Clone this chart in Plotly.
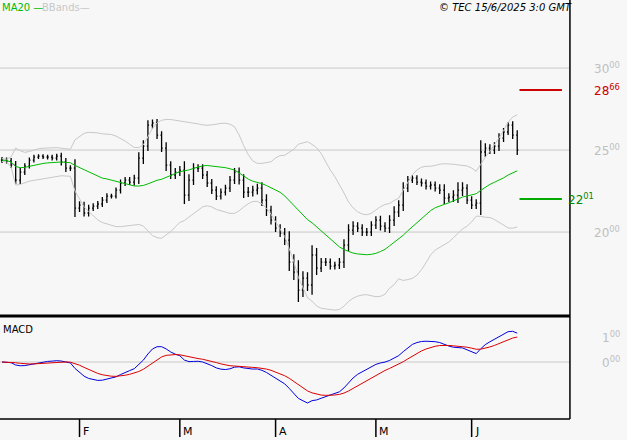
import plotly.graph_objects as go
import pandas as pd
import numpy as np

closes = [2439,2433,2409,2317,2366,2402,2439,2457,2463,2457,2457,2451,2463,2427,2390,2390,
          2146,2164,2116,2146,2158,2171,2195,2219,2219,2256,2299,2317,2305,2329,2451,2524,
          2652,2665,2591,2512,2408,2348,2366,2378,2225,2317,2390,2390,2348,2299,2256,2219,
          2244,2268,2317,2366,2317,2244,2244,2256,2268,2195,2134,2073,2024,1994,1951,1817,
          1756,1646,1719,1677,1860,1780,1817,1817,1792,1798,1817,1920,2012,2036,2024,2000,
          2000,2042,2073,2036,2024,2073,2122,2164,2268,2317,2329,2305,2299,2280,2287,2268,
          2256,2207,2213,2225,2256,2268,2195,2164,2176,2488,2512,2500,2524,2573,2610,2652,
          2591,2500]
ranges = [30,25,30,40,40,30,25,25,20,20,25,25,25,35,40,30,
          90,40,35,35,30,30,30,30,25,25,35,30,30,35,60,60,
          50,35,40,40,60,40,40,40,90,60,50,40,40,40,40,40,
          35,35,40,40,45,60,50,45,45,60,60,45,40,40,50,90,
          80,120,70,60,100,70,40,40,35,35,40,60,60,50,40,40,
          40,40,40,45,40,50,60,50,60,40,30,30,35,35,35,35,
          40,60,40,50,80,60,40,40,40,120,50,40,40,50,40,30,
          40,50]
months = ["F","M","A","M","J"]
month_idx = [17,39,60,82,103]
res_val, sup_val = 2866, 2201
price_ticks = [3000,2500,2000]
macd_ticks = [100,0]

n = len(closes)
idx = list(range(n))
c = pd.Series(closes, dtype=float)
opens = [closes[0]] + closes[:-1]
highs = [max(o, cl) + r*0.6 for o, cl, r in zip(opens, closes, ranges)]
lows = [min(o, cl) - r*0.6 for o, cl, r in zip(opens, closes, ranges)]
ma = c.rolling(20, min_periods=1).mean()
sd = c.rolling(20, min_periods=2).std().bfill()
up, dn = ma + 2*sd, ma - 2*sd
macd = c.ewm(span=12, adjust=False).mean() - c.ewm(span=26, adjust=False).mean()
sig = macd.ewm(span=9, adjust=False).mean()

fig = go.Figure()
fig.add_trace(go.Scatter(x=idx, y=up, mode="lines", line=dict(color="#c8c8c8", width=1), yaxis="y"))
fig.add_trace(go.Scatter(x=idx, y=dn, mode="lines", line=dict(color="#c8c8c8", width=1), yaxis="y"))
fig.add_trace(go.Scatter(x=idx, y=ma, mode="lines", line=dict(color="#00bb00", width=1), yaxis="y"))
fig.add_trace(go.Ohlc(x=idx, open=opens, high=highs, low=lows, close=closes, yaxis="y",
                      increasing=dict(line=dict(color="black", width=1.3)),
                      decreasing=dict(line=dict(color="black", width=1.3)), tickwidth=0.25))
fig.add_trace(go.Scatter(x=idx, y=macd, mode="lines", line=dict(color="#0000dd", width=1), yaxis="y2"))
fig.add_trace(go.Scatter(x=idx, y=sig, mode="lines", line=dict(color="#dd0000", width=1), yaxis="y2"))
fig.add_trace(go.Scatter(x=[113.5, 122.8], y=[res_val]*2, mode="lines", line=dict(color="#cc0000", width=2), yaxis="y"))
fig.add_trace(go.Scatter(x=[113.5, 122.8], y=[sup_val]*2, mode="lines", line=dict(color="#00aa00", width=2), yaxis="y"))

def sup(v):
    s = str(v)
    return f"{s[:-2]}<sup>{s[-2:]}</sup>" if len(s) > 2 else f"{s}<sup>00</sup>"

F = "DejaVu Sans"
ann = []
for v in price_ticks:
    ann.append(dict(x=0.944, xref="paper", y=v, yref="y", text=sup(v), showarrow=False,
                    xanchor="left", font=dict(color="#c0c0c0", size=12, family=F)))
ann.append(dict(x=0.944, xref="paper", y=res_val, yref="y", text=sup(res_val), showarrow=False,
                xanchor="left", font=dict(color="#cc0000", size=12, family=F)))
ann.append(dict(x=0.902, xref="paper", y=sup_val, yref="y", text=sup(sup_val), showarrow=False,
                xanchor="left", font=dict(color="#008800", size=12, family=F)))
ann.append(dict(x=0.957, xref="paper", y=100, yref="y2", text="1<sup>00</sup>", showarrow=False,
                xanchor="left", font=dict(color="#c0c0c0", size=12, family=F)))
ann.append(dict(x=0.957, xref="paper", y=0, yref="y2", text="0<sup>00</sup>", showarrow=False,
                xanchor="left", font=dict(color="#c0c0c0", size=12, family=F)))
for m, i in zip(months, month_idx):
    ann.append(dict(x=i+0.3, xref="x", y=0.0, yref="paper", text=m, showarrow=False,
                    xanchor="left", yanchor="bottom", font=dict(color="black", size=11, family=F)))
ann.append(dict(x=0.0, xref="paper", y=1.0, yref="paper", text="MA20 —", showarrow=False,
                xanchor="left", yanchor="top", font=dict(color="#00bb00", size=10, family=F)))
ann.append(dict(x=0.063, xref="paper", y=1.0, yref="paper", text="BBands—", showarrow=False,
                xanchor="left", yanchor="top", font=dict(color="#c8c8c8", size=10, family=F)))
ann.append(dict(x=0.915, xref="paper", y=1.0, yref="paper", text="<i>© TEC 15/6/2025 3:0 GMT</i>", showarrow=False,
                xanchor="right", yanchor="top", font=dict(color="black", size=10, family=F)))
ann.append(dict(x=0.001, xref="paper", y=0.268, yref="paper", text="MACD", showarrow=False,
                xanchor="left", yanchor="top", font=dict(color="black", size=10, family=F)))

shapes = []
for v in price_ticks:
    shapes.append(dict(type="line", xref="paper", x0=0, x1=0.909, yref="y", y0=v, y1=v,
                       line=dict(color="#c8c8c8", width=1), layer="below"))
shapes.append(dict(type="line", xref="paper", x0=0, x1=0.909, yref="y2", y0=0, y1=0,
                   line=dict(color="#c8c8c8", width=1), layer="below"))
shapes.append(dict(type="line", xref="paper", x0=0, x1=0.909, yref="paper", y0=0.2818, y1=0.2818,
                   line=dict(color="black", width=3)))
shapes.append(dict(type="line", xref="paper", x0=0, x1=0.909, yref="paper", y0=0.0477, y1=0.0477,
                   line=dict(color="black", width=1.5)))
shapes.append(dict(type="line", xref="paper", x0=0.909, x1=0.909, yref="paper", y0=0.0477, y1=1,
                   line=dict(color="black", width=1.5)))
for i in month_idx:
    shapes.append(dict(type="line", xref="x", x0=i, x1=i, yref="paper", y0=0.0068, y1=0.0477,
                       line=dict(color="black", width=1.5)))

fig.update_layout(
    width=627, height=440, margin=dict(l=0, r=0, t=0, b=0),
    paper_bgcolor="#f7f7f7", plot_bgcolor="#f7f7f7", showlegend=False,
    xaxis=dict(domain=[0, 0.909], range=[-0.44, 124.56], showgrid=False, showticklabels=False,
               zeroline=False, rangeslider=dict(visible=False), fixedrange=True),
    yaxis=dict(domain=[0.2818, 1], range=[1488, 3415], showgrid=False, showticklabels=False, zeroline=False),
    yaxis2=dict(domain=[0.0477, 0.2818], range=[-228, 184], showgrid=False, showticklabels=False, zeroline=False),
    annotations=ann, shapes=shapes,
)
fig.write_html("out.html", config={"displayModeBar": False})
with open("out.html", encoding="utf-8") as f:
    html = f.read()
html = html.replace("<head>", "<head><style>html,body{margin:0;padding:0;overflow:hidden;background:#f7f7f7}</style>", 1)
with open("out.html", "w", encoding="utf-8") as f:
    f.write(html)
